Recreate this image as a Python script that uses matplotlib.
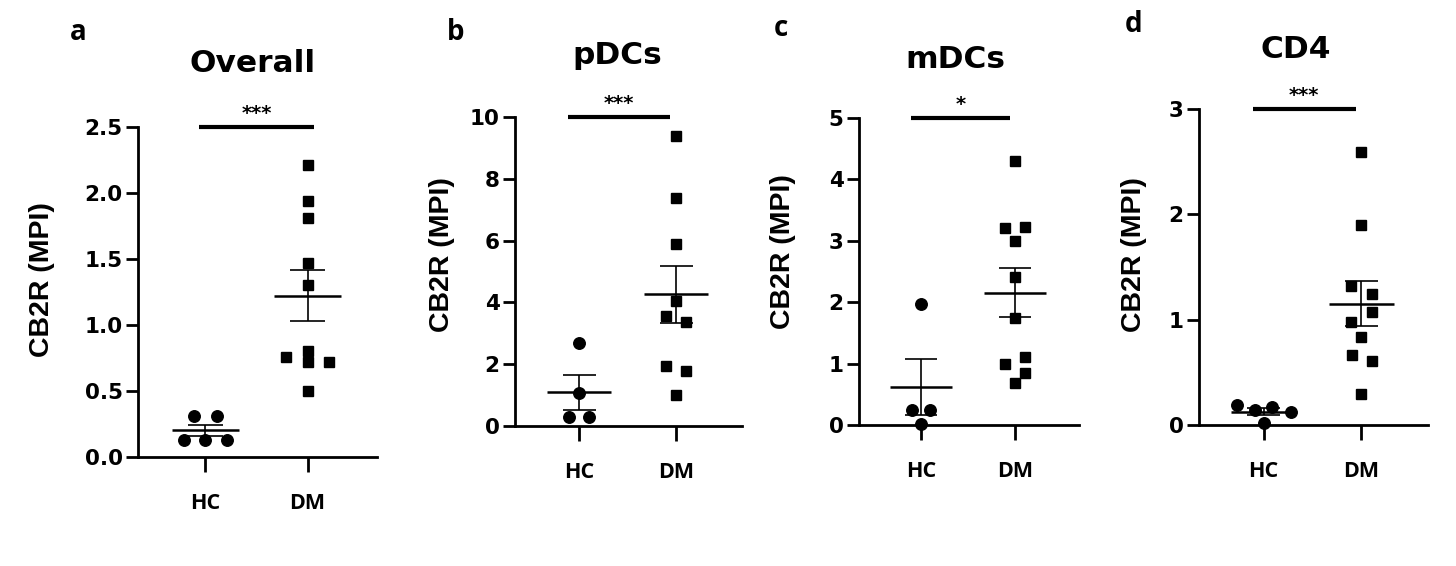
import matplotlib.pyplot as plt
import numpy as np

# ---- data ----
groups = ["HC", "DM"]
titles = ["Overall", "pDCs", "mDCs", "CD4"]
letters = ["a", "b", "c", "d"]
stars = ["***", "***", "*", "***"]
yticks = [[0, 0.5, 1.0, 1.5, 2.0, 2.5], [0, 2, 4, 6, 8, 10], [0, 1, 2, 3, 4, 5], [0, 1, 2, 3]]
yticklabels = [["0.0", "0.5", "1.0", "1.5", "2.0", "2.5"],
               ["0", "2", "4", "6", "8", "10"],
               ["0", "1", "2", "3", "4", "5"],
               ["0", "1", "2", "3"]]

hc_overall = [0.31, 0.31, 0.13, 0.13, 0.13]
dm_overall = [2.21, 1.94, 1.81, 1.47, 1.30, 0.80, 0.76, 0.72, 0.72, 0.50]
hc_pdcs = [2.70, 1.08, 0.30, 0.30]
dm_pdcs = [9.37, 7.39, 5.89, 4.03, 3.56, 3.35, 1.94, 1.78, 1.00]
hc_mdcs = [1.97, 0.25, 0.25, 0.02]
dm_mdcs = [4.30, 3.21, 3.23, 3.00, 2.41, 1.74, 1.00, 1.11, 0.85, 0.69]
hc_cd4 = [0.19, 0.14, 0.17, 0.12, 0.02]
dm_cd4 = [2.59, 1.90, 1.32, 1.24, 1.07, 0.98, 0.84, 0.66, 0.61, 0.29]

# horizontal scatter of points inside each column (Prism layout)
hc_overall_dx = [-0.11, 0.11, -0.21, 0, 0.21]
dm_overall_dx = [0, 0, 0, 0, 0, 0, -0.21, 0, 0.21, 0]
hc_pdcs_dx = [0, 0, -0.1, 0.1]
dm_pdcs_dx = [0, 0, 0, 0, -0.1, 0.1, -0.1, 0.1, 0]
hc_mdcs_dx = [0, -0.1, 0.1, 0]
dm_mdcs_dx = [0, -0.11, 0.11, 0, 0, 0, -0.11, 0.11, 0.11, 0]
hc_cd4_dx = [-0.27, -0.09, 0.09, 0.28, 0]
dm_cd4_dx = [0, 0, -0.11, 0.11, 0.11, -0.11, 0, -0.1, 0.11, 0]

panels = [
    (hc_overall, dm_overall, hc_overall_dx, dm_overall_dx),
    (hc_pdcs, dm_pdcs, hc_pdcs_dx, dm_pdcs_dx),
    (hc_mdcs, dm_mdcs, hc_mdcs_dx, dm_mdcs_dx),
    (hc_cd4, dm_cd4, hc_cd4_dx, dm_cd4_dx),
]

# ---- layout in pixels ----
W, H = 1456, 566
# (left, right, top, bottom) of each plotting box
boxes = [(138, 377, 127, 457), (515, 742, 117, 426), (859, 1079, 118, 425), (1199, 1428, 109, 425)]
bar_span = [(-0.06, 1.06), (-0.11, 0.94), (-0.11, 0.95), (-0.11, 0.94)]
ylabel_x = [42, 442, 783, 1134]
ylabel_y = [280, 255, 252, 255]
title_xy = [(253, 63), (617, 55), (955, 60), (1296, 50)]
letter_xy = [(78, 33), (456, 32), (781, 28), (1134, 25)]

fig = plt.figure(figsize=(W / 100, H / 100), dpi=100)

for i in range(4):
    l, r, t, b = boxes[i]
    ax = fig.add_axes([l / W, 1 - b / H, (r - l) / W, (b - t) / H])
    hc, dm, hcdx, dmdx = panels[i]
    top = yticks[i][-1]

    ax.plot(np.array(hcdx), hc, 'o', color='black', markersize=8.3, clip_on=False, zorder=3)
    ax.plot(1 + np.array(dmdx), dm, 's', color='black', markersize=7.8, clip_on=False, zorder=3)

    # mean +/- SEM
    for xpos, vals in [(0, hc), (1, dm)]:
        v = np.array(vals)
        m = v.mean()
        sem = v.std(ddof=1) / np.sqrt(len(v))
        ax.hlines(m, xpos - 0.33, xpos + 0.33, color='black', linewidth=1.8, zorder=4)
        ax.vlines(xpos, m - sem, m + sem, color='black', linewidth=1.2, zorder=4)
        ax.hlines([m - sem, m + sem], xpos - 0.17, xpos + 0.17, color='black', linewidth=1.2, zorder=4)

    # significance bar
    x0, x1 = bar_span[i]
    ax.plot([x0, x1], [top, top], color='black', linewidth=3, solid_capstyle='butt', clip_on=False)
    ax.annotate(stars[i], xy=((x0 + x1) / 2, top), xytext=(0, 3), textcoords='offset points',
                ha='center', va='bottom', fontsize=14, fontweight='bold', family='DejaVu Sans')

    ax.set_xlim(-0.66, 1.68)
    ax.set_ylim(0, top)
    ax.set_xticks([0, 1])
    ax.set_xticklabels(groups, family='Open Sans', fontweight='bold', fontsize=15.5)
    ax.set_yticks(yticks[i])
    ax.set_yticklabels(yticklabels[i], family='DejaVu Sans', fontweight='bold', fontsize=15.5)
    ax.tick_params(axis='y', length=9, width=2, pad=2)
    ax.tick_params(axis='x', length=11, width=2, pad=15)
    for s in ['top', 'right']:
        ax.spines[s].set_visible(False)
    for s in ['left', 'bottom']:
        ax.spines[s].set_linewidth(2)

    fig.text(ylabel_x[i] / W, 1 - ylabel_y[i] / H, "CB2R (MPI)", rotation=90,
             ha='center', va='center', fontsize=20.5, fontweight='bold', family='Liberation Sans')
    fig.text(title_xy[i][0] / W, 1 - title_xy[i][1] / H, titles[i], ha='center', va='center',
             fontsize=22.5, fontweight='bold', family='DejaVu Sans')
    fig.text(letter_xy[i][0] / W, 1 - letter_xy[i][1] / H, letters[i], ha='center', va='center',
             fontsize=20, fontweight='bold', family='Open Sans')

fig.savefig('out.png', dpi=100)
